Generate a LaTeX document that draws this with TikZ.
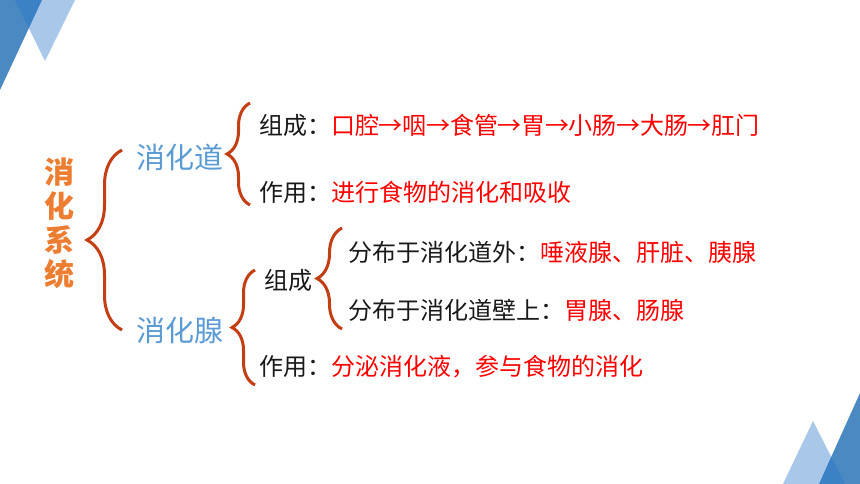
\documentclass[tikz,border=0pt]{standalone}
\usepackage{fontspec}
\setmainfont{Noto Sans CJK SC}
\usetikzlibrary{decorations.pathreplacing}
\definecolor{bracered}{RGB}{196,62,20}
\definecolor{sysorange}{RGB}{237,125,49}
\definecolor{partblue}{RGB}{91,155,213}
\definecolor{darktri}{RGB}{74,137,194}
\definecolor{lighttri}{RGB}{38,117,202}
\definecolor{inkred}{RGB}{255,0,0}
\definecolor{ink}{RGB}{25,25,25}
\newcommand{\tto}{\kern-0.3pt→\kern-0.3pt}

\begin{document}
\begin{tikzpicture}[x=1pt,y=-1pt]
  \tikzstyle{brc}=[bracered,line width=3pt,decorate]
  \tikzstyle{item}=[anchor=west,inner sep=0,text=ink,font=\fontsize{24}{28}\selectfont]
  \tikzstyle{part}=[anchor=west,inner sep=0,text=partblue,font=\fontsize{29}{34}\selectfont]
  \tikzstyle{sys}=[inner sep=0,align=center,text=sysorange,font=\fontsize{30}{34}\selectfont\bfseries]

  \useasboundingbox (0,0) rectangle (860,484);
  \fill[white] (0,0) rectangle (860,484);

  % triangles
  \fill[darktri] (0,0) -- (42,0) -- (0,90) -- cycle;
  \fill[lighttri,opacity=0.4] (15,0) -- (75,0) -- (45,61) -- cycle;
  \fill[darktri] (819,484) -- (860,393) -- (860,484) -- cycle;
  \fill[lighttri,opacity=0.4] (783,484) -- (813,421) -- (845,484) -- cycle;

  % names
  \node[sys] (sys) at (59,223) {消\\化\\系\\统};
  \node[part] (dao) at (136,157) {消化道};
  \node[part] (xian) at (136,330) {消化腺};

  \node[item] (daocomp) at (259,125) {组成：\textcolor{inkred}{口腔\tto 咽\tto 食管\tto 胃\tto 小肠\tto 大肠\tto 肛门}};
  \node[item] (daofunc) at (259,192) {作用：\textcolor{inkred}{进行食物的消化和吸收}};
  \node[item] (xiancomp) at (264,280) {组成};
  \node[item] (outside) at (348,252) {分布于消化道外：\textcolor{inkred}{唾液腺、肝脏、胰腺}};
  \node[item] (wall) at (348,310) {分布于消化道壁上：\textcolor{inkred}{胃腺、肠腺}};
  \node[item] (xianfunc) at (259,367) {作用：\textcolor{inkred}{分泌消化液，参与食物的消化}};

  % braces
  \coordinate (sysbot) at (122,330);
  \coordinate (systop) at (122,150);
  \coordinate (daobot) at (250,205);
  \coordinate (daotop) at (250,103);
  \coordinate (compbot) at (342,329);
  \coordinate (comptop) at (342,228);
  \coordinate (xianbot) at (255,385);
  \coordinate (xiantop) at (255,270);
  \draw[brc,decoration={brace,amplitude=35pt}] (sysbot) -- (systop);
  \draw[brc,decoration={brace,amplitude=23pt}] (daobot) -- (daotop);
  \draw[brc,decoration={brace,amplitude=25pt}] (compbot) -- (comptop);
  \draw[brc,decoration={brace,amplitude=23pt}] (xianbot) -- (xiantop);

\end{tikzpicture}
\end{document}
